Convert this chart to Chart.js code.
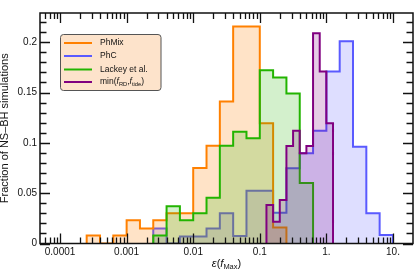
<!DOCTYPE html>
<html>
<head>
<meta charset="utf-8">
<script src="https://cdn.jsdelivr.net/npm/chart.js@4"></script>
<style>
  html, body { margin: 0; padding: 0; background: #fff; }
  #wrap { width: 415px; height: 272px; }
</style>
</head>
<body>
<div id="wrap"><canvas id="chart" width="415" height="272"></canvas></div>
<script>
// histograms: first bin edge in log10(eps), bin width in decades, fractions per bin
const phMixStart = -3.6;
const phMixWidth = 0.2;
const phMix = [0.008, 0, 0.008, 0.023, 0.015, 0.023, 0.030, 0.030, 0.075, 0.097, 0.141, 0.2155, 0.2155, 0.1195, 0.016];

const phCStart = -2.6;
const phCWidth = 0.2;
const phC = [0.015, 0, 0.007, 0.007, 0.015, 0.030, 0.0075, 0.0525, 0.0525, 0.0306, 0.0747, 0.0897, 0.112, 0.171, 0.201, 0.0962, 0.030, 0.0085];

const lackeyStart = -2.6;
const lackeyWidth = 0.2;
const lackey = [0.008, 0.037, 0.023, 0.030, 0.0455, 0.097, 0.111, 0.1045, 0.172, 0.165, 0.149, 0.060];

const minFStart = -0.9;
const minFWidth = 0.1;
const minF = [0.0383, 0.0217, 0.0432, 0.0969, 0.112, 0.0897, 0.0969, 0.209, 0.171, 0.1195];

const xTickValues = [0.0001, 0.001, 0.01, 0.1, 1, 10];
const xTickLabels = ['0.0001', '0.001', '0.01', '0.1', '1.', '10.'];
const yTickValues = [0, 0.05, 0.1, 0.15, 0.2];
const yTickLabels = ['0', '0.05', '0.1', '0.15', '0.2'];

// legend text, with italic / subscript pieces
const legendLabels = [
  [{ t: 'PhMix' }],
  [{ t: 'PhC' }],
  [{ t: 'Lackey et al.' }],
  [{ t: 'min(' }, { t: 'f', i: 1 }, { t: 'RD', s: 1 }, { t: ',' }, { t: 'f', i: 1 }, { t: 'tide', s: 1 }, { t: ')' }]
];

const FONT = '"Liberation Sans", Arial, Helvetica, sans-serif';
const colors = {
  phMix: '#ff8000', phC: '#5a5aff', lackey: '#22b400', minF: '#800080'
};
const fills = {
  phMix: 'rgba(255,128,0,0.22)', phC: 'rgba(90,90,255,0.2)',
  lackey: 'rgba(34,180,0,0.2)', minF: 'rgba(128,0,128,0.2)'
};

function stepPoints(start, width, values) {
  const pts = [{ x: Math.pow(10, start), y: 0 }];
  values.forEach((v, i) => pts.push({ x: Math.pow(10, start + i * width), y: v }));
  pts.push({ x: Math.pow(10, start + values.length * width), y: 0 });
  return pts;
}

function drawRich(ctx, parts, x, y, size) {
  let cx = x;
  parts.forEach(p => {
    const sz = p.s ? size * 0.68 : size;
    ctx.font = (p.i ? 'italic ' : '') + sz + 'px ' + FONT;
    ctx.fillText(p.t, cx, p.s ? y + size * 0.28 : y);
    cx += ctx.measureText(p.t).width;
  });
  return cx - x;
}

function richWidth(ctx, parts, size) {
  let w = 0;
  parts.forEach(p => {
    const sz = p.s ? size * 0.68 : size;
    ctx.font = (p.i ? 'italic ' : '') + sz + 'px ' + FONT;
    w += ctx.measureText(p.t).width;
  });
  return w;
}

// frame, inward ticks on all sides, legend box, x title
const decor = {
  id: 'decor',
  afterDraw(chart) {
    const { ctx, chartArea: a, scales: { x, y } } = chart;
    ctx.save();
    ctx.strokeStyle = '#111';
    ctx.lineWidth = 1.3;
    ctx.beginPath();
    for (let p = -5; p <= 1; p++) {
      for (let k = 1; k <= 9; k++) {
        const v = k * Math.pow(10, p);
        if (v <= x.min || v >= x.max) continue;
        const px = Math.round(x.getPixelForValue(v)) + 0.5;
        const len = k === 1 ? 10 : 6;
        ctx.moveTo(px, a.bottom); ctx.lineTo(px, a.bottom - len);
        ctx.moveTo(px, a.top); ctx.lineTo(px, a.top + len);
      }
    }
    for (let i = 0; i <= 22; i++) {
      const py = Math.round(y.getPixelForValue(i / 100)) + 0.5;
      const len = i % 5 === 0 ? 10 : 6.5;
      ctx.moveTo(a.left, py); ctx.lineTo(a.left + len, py);
      ctx.moveTo(a.right, py); ctx.lineTo(a.right - len, py);
    }
    ctx.stroke();
    ctx.lineWidth = 1.5;
    ctx.strokeRect(a.left, a.top, a.right - a.left, a.bottom - a.top);

    // legend
    const lx = 60.5, ly = 34.5, lw = 100.5, lh = 56;
    ctx.beginPath();
    if (ctx.roundRect) ctx.roundRect(lx, ly, lw, lh, 3); else ctx.rect(lx, ly, lw, lh);
    ctx.fillStyle = '#fde3cb';
    ctx.fill();
    ctx.lineWidth = 1;
    ctx.strokeStyle = '#555';
    ctx.stroke();
    const keys = ['phMix', 'phC', 'lackey', 'minF'];
    const rows = [43, 56, 69.5, 82];
    ctx.textBaseline = 'middle';
    ctx.textAlign = 'left';
    keys.forEach((k, i) => {
      ctx.strokeStyle = colors[k];
      ctx.lineWidth = 2;
      ctx.beginPath();
      ctx.moveTo(64, rows[i]); ctx.lineTo(92, rows[i]);
      ctx.stroke();
      ctx.fillStyle = '#111';
      drawRich(ctx, legendLabels[i], 100, rows[i], 8.5);
    });

    // x axis title
    const xt = [{ t: '\u03b5', i: 1 }, { t: '(' }, { t: 'f', i: 1 }, { t: 'Max', s: 1 }, { t: ')' }];
    const w = richWidth(ctx, xt, 11);
    ctx.fillStyle = '#111';
    drawRich(ctx, xt, (a.left + a.right) / 2 - w / 2, 264, 11);
    ctx.restore();
  }
};

const lineDs = (label, key, start, width, values, order) => ({
  label,
  data: stepPoints(start, width, values),
  borderColor: colors[key],
  backgroundColor: fills[key],
  borderWidth: 2,
  fill: 'origin',
  stepped: true,
  pointRadius: 0,
  order
});

new Chart(document.getElementById('chart'), {
  type: 'line',
  data: {
    datasets: [
      lineDs('PhMix', 'phMix', phMixStart, phMixWidth, phMix, 2),
      lineDs('PhC', 'phC', phCStart, phCWidth, phC, 3),
      lineDs('Lackey et al.', 'lackey', lackeyStart, lackeyWidth, lackey, 1),
      lineDs('min(f_RD, f_tide)', 'minF', minFStart, minFWidth, minF, 0)
    ]
  },
  options: {
    responsive: false,
    animation: false,
    devicePixelRatio: 1,
    layout: { padding: { left: 0, right: 2, top: 13, bottom: 0 } },
    plugins: { legend: { display: false }, tooltip: { enabled: false } },
    scales: {
      x: {
        type: 'logarithmic',
        min: 5e-5,
        max: 20,
        grid: { display: false, drawTicks: false },
        border: { display: false },
        afterBuildTicks: s => { s.ticks = xTickValues.map(v => ({ value: v })); },
        afterFit: s => { s.height = 28.5; },
        ticks: {
          padding: 3,
          autoSkip: false,
          maxRotation: 0,
          color: '#111',
          font: { family: FONT, size: 10 },
          callback: v => xTickLabels[xTickValues.indexOf(v)]
        }
      },
      y: {
        min: 0,
        max: 0.229,
        grid: { display: false, drawTicks: false },
        border: { display: false },
        afterBuildTicks: s => { s.ticks = yTickValues.map(v => ({ value: v })); },
        afterFit: s => { s.width = 40; },
        title: {
          display: true,
          text: 'Fraction of NS\u2013BH simulations',
          color: '#111',
          font: { family: FONT, size: 11, lineHeight: 0.85 },
          padding: 0
        },
        ticks: {
          padding: 3,
          color: '#111',
          font: { family: FONT, size: 10 },
          callback: v => yTickLabels[yTickValues.indexOf(v)]
        }
      }
    }
  },
  plugins: [decor]
});
</script>
</body>
</html>
